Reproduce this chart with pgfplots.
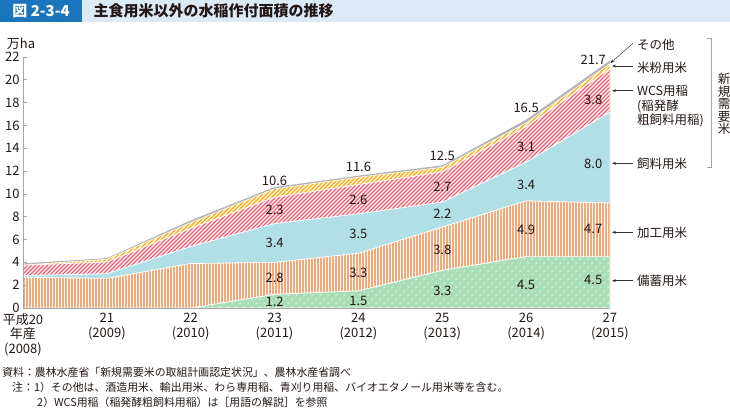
\documentclass[border=0pt]{standalone}
\usepackage{fontspec}
\setmainfont{Noto Sans CJK JP}
\usepackage{pgfplots}
\pgfplotsset{compat=1.18}
\usetikzlibrary{patterns,arrows.meta}

\definecolor{titleblue}{HTML}{1B75BC}
\definecolor{titlelight}{HTML}{DCEAF7}
\definecolor{cgreen}{HTML}{A9DDB6}
\definecolor{corange}{HTML}{F3A97A}
\definecolor{cblue}{HTML}{B0DFE5}
\definecolor{cred}{HTML}{EC5A6E}
\definecolor{cyellow}{HTML}{F5A800}
\definecolor{cgray}{HTML}{B4B4B4}
\definecolor{txt}{HTML}{231815}

\pgfdeclarepatternformonly{wdots}{\pgfqpoint{-1pt}{-1pt}}{\pgfqpoint{7pt}{7pt}}{\pgfqpoint{8pt}{8pt}}{%
  \pgfpathcircle{\pgfqpoint{0pt}{0pt}}{0.75pt}%
  \pgfpathcircle{\pgfqpoint{4pt}{4pt}}{0.75pt}%
  \pgfusepath{fill}}
\pgfdeclarepatternformonly{wvert}{\pgfqpoint{-0.5pt}{-0.5pt}}{\pgfqpoint{3.5pt}{3.5pt}}{\pgfqpoint{3pt}{3pt}}{%
  \pgfsetlinewidth{0.6pt}%
  \pgfpathmoveto{\pgfqpoint{1.5pt}{-0.5pt}}%
  \pgfpathlineto{\pgfqpoint{1.5pt}{3.5pt}}%
  \pgfusepath{stroke}}
\pgfdeclarepatternformonly{wdiag}{\pgfqpoint{-1pt}{-1pt}}{\pgfqpoint{5pt}{5pt}}{\pgfqpoint{4pt}{4pt}}{%
  \pgfsetlinewidth{1.3pt}%
  \pgfpathmoveto{\pgfqpoint{0pt}{0pt}}%
  \pgfpathlineto{\pgfqpoint{4.1pt}{4.1pt}}%
  \pgfusepath{stroke}}

\newcommand{\lbl}{\fontsize{13}{13}\selectfont}
\newcommand{\rlab}{\fontsize{12.5}{12.5}\selectfont}

\begin{document}
\begin{tikzpicture}[x=1pt,y=1pt]
\path[use as bounding box] (0,0) rectangle (730,407);
% title bar
\fill[titlelight] (0,385) rectangle (730,407);
\fill[titleblue] (0,385) rectangle (82,407);
\node[text=white, font=\fontsize{15}{15}\selectfont\bfseries] at (41,396) {図 2-3-4};
\node[anchor=west, text=txt, font=\fontsize{15}{15}\selectfont\bfseries] at (90,396) {主食用米以外の水稲作付面積の推移};
% unit
\node[text=txt, font=\lbl] at (21,363) {万ha};

\begin{axis}[
  at={(23pt,99pt)}, anchor=south west,
  width=587pt, height=251pt, scale only axis,
  xmin=2008, xmax=2015, ymin=0, ymax=22,
  clip=false, axis on top,
  axis x line*=bottom, axis y line*=left,
  axis line style={draw=gray!70, line width=1pt, -},
  ytick={0,2,...,22},
  ytick style={draw=gray!70, line width=0.8pt},
  major tick length=4pt,
  tick align=inside,
  xtick={2008,...,2015},
  xtick style={draw=none},
  xticklabels={{平成20\\年産\\(2008)},{21\\(2009)},{22\\(2010)},{23\\(2011)},{24\\(2012)},{25\\(2013)},{26\\(2014)},{27\\(2015)}},
  xticklabel style={align=center, font=\fontsize{13}{14.5}\selectfont, text=txt, anchor=north, yshift=-2pt},
  yticklabel style={font=\lbl, text=txt},
  /pgf/number format/assume math mode=true,
]
% cumulative tops (bottom to top: stockpile, processing, feed, WCS, rice-flour, other)
% other (total)
\addplot[fill=cgray, draw=none] coordinates {(2008,3.91) (2009,4.37) (2010,7.68) (2011,10.60) (2012,11.60) (2013,12.50) (2014,16.50) (2015,21.70)} \closedcycle;
% rice for flour
\addplot[fill=cyellow, draw=white, line width=0.6pt] coordinates {(2008,3.76) (2009,4.27) (2010,7.48) (2011,10.44) (2012,11.46) (2013,12.33) (2014,16.22) (2015,21.41)} \closedcycle;
\addplot[pattern=wdiag, pattern color=white, draw=none] coordinates {(2008,3.76) (2009,4.27) (2010,7.48) (2011,10.44) (2012,11.46) (2013,12.33) (2014,16.22) (2015,21.41)} \closedcycle;
% WCS
\addplot[fill=cred, draw=white, line width=0.8pt] coordinates {(2008,3.75) (2009,4.03) (2010,6.98) (2011,9.71) (2012,10.82) (2013,11.93) (2014,15.88) (2015,20.99)} \closedcycle;
\addplot[pattern=wdiag, pattern color=white, draw=none] coordinates {(2008,3.75) (2009,4.03) (2010,6.98) (2011,9.71) (2012,10.82) (2013,11.93) (2014,15.88) (2015,20.99)} \closedcycle;
% feed rice
\addplot[fill=cblue, draw=white, line width=0.8pt] coordinates {(2008,2.84) (2009,3.01) (2010,5.39) (2011,7.40) (2012,8.25) (2013,9.28) (2014,12.79) (2015,17.18)} \closedcycle;
% processing rice
\addplot[fill=corange, draw=white, line width=0.8pt] coordinates {(2008,2.7) (2009,2.6) (2010,3.9) (2011,4.0) (2012,4.8) (2013,7.1) (2014,9.4) (2015,9.2)} \closedcycle;
\addplot[pattern=wvert, pattern color=white, draw=none] coordinates {(2008,2.7) (2009,2.6) (2010,3.9) (2011,4.0) (2012,4.8) (2013,7.1) (2014,9.4) (2015,9.2)} \closedcycle;
% stockpile rice
\addplot[fill=cgreen, draw=white, line width=0.8pt] coordinates {(2010,0) (2011,1.2) (2012,1.5) (2013,3.3) (2014,4.5) (2015,4.5)} \closedcycle;
\addplot[pattern=wdots, pattern color=white, draw=none] coordinates {(2010,0) (2011,1.2) (2012,1.5) (2013,3.3) (2014,4.5) (2015,4.5)} \closedcycle;

% value labels
\begin{scope}[every node/.style={font=\lbl, text=txt, inner sep=0pt}]
\node at (axis cs:2011,0.55) {1.2};
\node at (axis cs:2011,2.63) {2.8};
\node at (axis cs:2011,5.70) {3.4};
\node at (axis cs:2011,8.59) {2.3};
\node at (axis cs:2011,11.13) {10.6};
\node at (axis cs:2012,0.61) {1.5};
\node at (axis cs:2012,3.04) {3.3};
\node at (axis cs:2012,6.54) {3.5};
\node at (axis cs:2012,9.47) {2.6};
\node at (axis cs:2012,12.4) {11.6};
\node at (axis cs:2013,1.52) {3.3};
\node at (axis cs:2013,5.08) {3.8};
\node at (axis cs:2013,8.29) {2.2};
\node at (axis cs:2013,10.63) {2.7};
\node at (axis cs:2013,13.32) {12.5};
\node at (axis cs:2014,2.02) {4.5};
\node at (axis cs:2014,6.84) {4.9};
\node at (axis cs:2014,10.78) {3.4};
\node at (axis cs:2014,14.14) {3.1};
\node at (axis cs:2014,17.5) {16.5};
\node at (axis cs:2014.8,2.45) {4.5};
\node at (axis cs:2014.8,6.89) {4.7};
\node at (axis cs:2014.8,12.64) {8.0};
\node at (axis cs:2014.8,18.23) {3.8};
\node at (axis cs:2014.8,21.74) {21.7};
\end{scope}
\end{axis}

% right annotations
\begin{scope}[every node/.style={font=\rlab, text=txt, anchor=west, inner sep=0pt}]
\draw[gray!40!black, line width=0.5pt, -{Stealth[length=4pt,width=3pt]}] (633,363.7) -- (610.5,344);
\draw[gray!40!black, line width=0.5pt, -{Stealth[length=4pt,width=3pt]}] (633,341) -- (612,341);
\draw[gray!40!black, line width=0.5pt, -{Stealth[length=4pt,width=3pt]}] (633,316.3) -- (612,316.3);
\draw[gray!40!black, line width=0.5pt, -{Stealth[length=4pt,width=3pt]}] (633,243.7) -- (612,243.7);
\draw[gray!40!black, line width=0.5pt, -{Stealth[length=4pt,width=3pt]}] (633,174.7) -- (612,174.7);
\draw[gray!40!black, line width=0.5pt, -{Stealth[length=4pt,width=3pt]}] (633,126.3) -- (612,126.3);
\node at (637,362) {その他};
\node at (637,339.3) {米粉用米};
\node at (637,316.3) {WCS用稲};
\node at (637,301) {(稲発酵};
\node at (637,286.7) {粗飼料用稲)};
\node at (637,243.7) {飼料用米};
\node at (637,174.7) {加工用米};
\node at (637,126.3) {備蓄用米};
\end{scope}
\draw[gray!70, line width=0.8pt] (707,369) -- (711.7,369) -- (711.7,240) -- (707,240);
\node[font=\fontsize{12.5}{12.5}\selectfont, text=txt, align=center] at (724,303) {新\\規\\需\\要\\米};

% notes
\begin{scope}[every node/.style={font=\fontsize{10.9}{10.9}\selectfont, text=txt, anchor=west, inner sep=0pt}]
\node at (2,35) {資料：農林水産省「新規需要米の取組計画認定状況」、農林水産省調べ};
\node at (12,19.5) {注：1）その他は、酒造用米、輸出用米、わら専用稲、青刈り用稲、バイオエタノール用米等を含む。};
\node at (37,4.5) {2）WCS用稲（稲発酵粗飼料用稲）は［用語の解説］を参照};
\end{scope}
\end{tikzpicture}
\end{document}
